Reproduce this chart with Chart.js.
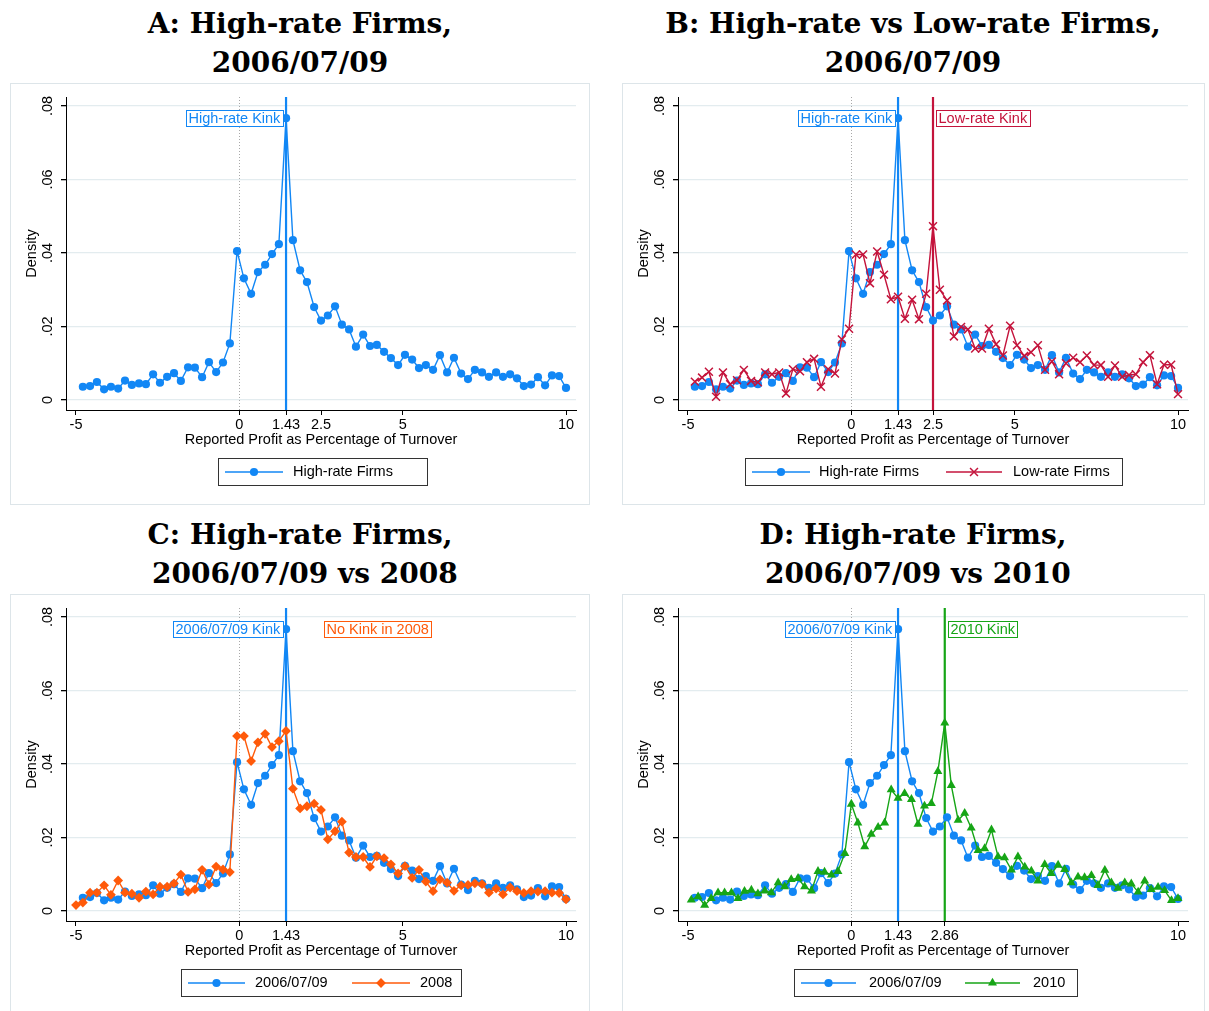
<!DOCTYPE html>
<html><head><meta charset="utf-8">
<script src="https://cdn.jsdelivr.net/npm/chart.js@4.4.1/dist/chart.umd.min.js"></script>
<style>
body{margin:0;background:#fff;width:1209px;height:1011px;overflow:hidden;position:relative}
.title{position:absolute;width:600px;text-align:center;font-family:"DejaVu Serif",serif;font-weight:bold;font-size:28px;line-height:39px;color:#000;white-space:pre}
.frame{position:absolute;border:1px solid #dde5e9;box-sizing:border-box;height:422px}
canvas{position:absolute}
</style></head><body>
<div class="title" style="left:0;top:4px">A: High-rate Firms,<br>2006/07/09</div>
<div class="title" style="left:613px;top:4px">B: High-rate vs Low-rate Firms,<br>2006/07/09</div>
<div class="title" style="left:0;top:515px">C: High-rate Firms,<br> 2006/07/09 vs 2008</div>
<div class="title" style="left:613px;top:515px">D: High-rate Firms,<br> 2006/07/09 vs 2010</div>
<div class="frame" style="left:10px;top:83px;width:580px"></div>
<div class="frame" style="left:622px;top:83px;width:583px"></div>
<div class="frame" style="left:10px;top:594px;width:580px"></div>
<div class="frame" style="left:622px;top:594px;width:583px"></div>
<script>
// ---------------- data ----------------
const xGrid = [-4.79,-4.57,-4.36,-4.14,-3.93,-3.71,-3.50,-3.29,-3.07,-2.86,-2.64,-2.43,-2.21,-2.00,-1.79,-1.57,-1.36,-1.14,-0.93,-0.71,-0.50,-0.29,-0.07,0.14,0.36,0.57,0.79,1.00,1.21,1.43,1.64,1.86,2.07,2.29,2.50,2.71,2.93,3.14,3.36,3.57,3.79,4.00,4.21,4.43,4.64,4.86,5.07,5.29,5.50,5.71,5.93,6.14,6.36,6.57,6.79,7.00,7.21,7.43,7.64,7.86,8.07,8.29,8.50,8.71,8.93,9.14,9.36,9.57,9.79,10.00];
const xGrid2008 = [-5.00,-4.79,-4.57,-4.36,-4.14,-3.93,-3.71,-3.50,-3.29,-3.07,-2.86,-2.64,-2.43,-2.21,-2.00,-1.79,-1.57,-1.36,-1.14,-0.93,-0.71,-0.50,-0.29,-0.07,0.14,0.36,0.57,0.79,1.00,1.21,1.43,1.64,1.86,2.07,2.29,2.50,2.71,2.93,3.14,3.36,3.57,3.79,4.00,4.21,4.43,4.64,4.86,5.07,5.29,5.50,5.71,5.93,6.14,6.36,6.57,6.79,7.00,7.21,7.43,7.64,7.86,8.07,8.29,8.50,8.71,8.93,9.14,9.36,9.57,9.79,10.00];
const xGrid2010 = [-4.90,-4.69,-4.49,-4.29,-4.08,-3.88,-3.67,-3.47,-3.27,-3.06,-2.86,-2.65,-2.45,-2.24,-2.04,-1.84,-1.63,-1.43,-1.22,-1.02,-0.82,-0.61,-0.41,-0.20,0.00,0.20,0.41,0.61,0.82,1.02,1.22,1.43,1.63,1.84,2.04,2.24,2.45,2.65,2.86,3.06,3.27,3.47,3.67,3.88,4.08,4.29,4.49,4.69,4.90,5.10,5.31,5.51,5.71,5.92,6.12,6.33,6.53,6.73,6.94,7.14,7.35,7.55,7.76,7.96,8.16,8.37,8.57,8.78,8.98,9.18,9.39,9.59,9.80,10.00];

const highRate = [0.0036,0.0038,0.0049,0.0029,0.0036,0.0031,0.0053,0.0041,0.0045,0.0043,
  0.0070,0.0047,0.0063,0.0073,0.0052,0.0089,0.0088,0.0062,0.0103,0.0076,
  0.0102,0.0154,0.0405,0.0331,0.0289,0.0348,0.0368,0.0397,0.0424,0.0767,
  0.0435,0.0353,0.0321,0.0253,0.0216,0.0230,0.0255,0.0205,0.0192,0.0145,
  0.0178,0.0147,0.0150,0.0131,0.0114,0.0095,0.0123,0.0110,0.0087,0.0095,
  0.0082,0.0122,0.0075,0.0115,0.0072,0.0057,0.0082,0.0075,0.0063,0.0075,
  0.0063,0.0070,0.0059,0.0038,0.0042,0.0062,0.0040,0.0067,0.0065,0.0033];
const lowRate = [0.0050,0.0061,0.0077,0.0009,0.0075,0.0043,0.0054,0.0082,0.0052,0.0048,
  0.0075,0.0070,0.0075,0.0018,0.0084,0.0078,0.0103,0.0112,0.0036,0.0084,
  0.0072,0.0165,0.0194,0.0396,0.0396,0.0318,0.0404,0.0341,0.0274,0.0281,
  0.0221,0.0273,0.0220,0.0289,0.0473,0.0300,0.0271,0.0173,0.0199,0.0192,
  0.0140,0.0140,0.0194,0.0152,0.0121,0.0202,0.0149,0.0120,0.0130,0.0149,
  0.0082,0.0105,0.0070,0.0100,0.0115,0.0103,0.0121,0.0095,0.0095,0.0063,
  0.0094,0.0063,0.0068,0.0070,0.0103,0.0122,0.0043,0.0096,0.0096,0.0016];
const year2008 = [0.0016,0.0023,0.0050,0.0050,0.0070,0.0044,0.0083,0.0050,0.0047,0.0036,
  0.0053,0.0045,0.0066,0.0066,0.0075,0.0099,0.0052,0.0059,0.0112,0.0072,
  0.0121,0.0113,0.0106,0.0476,0.0476,0.0408,0.0459,0.0482,0.0446,0.0462,
  0.0490,0.0333,0.0279,0.0285,0.0292,0.0275,0.0195,0.0217,0.0243,0.0159,
  0.0147,0.0147,0.0120,0.0149,0.0144,0.0127,0.0102,0.0122,0.0090,0.0112,
  0.0080,0.0054,0.0086,0.0077,0.0055,0.0070,0.0071,0.0075,0.0073,0.0050,
  0.0061,0.0045,0.0064,0.0054,0.0049,0.0054,0.0053,0.0054,0.0050,0.0049,0.0032];
const year2010 = [0.0030,0.0039,0.0016,0.0034,0.0050,0.0050,0.0050,0.0034,0.0054,0.0057,
  0.0047,0.0055,0.0050,0.0077,0.0066,0.0086,0.0089,0.0066,0.0055,0.0108,
  0.0106,0.0098,0.0108,0.0157,0.0291,0.0240,0.0175,0.0209,0.0228,0.0240,
  0.0330,0.0307,0.0320,0.0304,0.0236,0.0286,0.0293,0.0380,0.0512,0.0342,
  0.0247,0.0266,0.0226,0.0165,0.0170,0.0221,0.0148,0.0145,0.0112,0.0148,
  0.0120,0.0109,0.0082,0.0127,0.0102,0.0125,0.0113,0.0077,0.0093,0.0091,
  0.0097,0.0070,0.0111,0.0077,0.0062,0.0077,0.0074,0.0052,0.0082,0.0059,
  0.0065,0.0056,0.0029,0.0034];

const xTicksAB = [-5, 0, 1.43, 2.5, 5, 10];
const xLabelsAB = ['-5', '0', '1.43', '2.5', '5', '10'];
const xTicksC = [-5, 0, 1.43, 5, 10];
const xLabelsC = ['-5', '0', '1.43', '5', '10'];
const xTicksD = [-5, 0, 1.43, 2.86, 10];
const xLabelsD = ['-5', '0', '1.43', '2.86', '10'];
const yTicks = [0, 0.02, 0.04, 0.06, 0.08];
const yTickLabels = ['0', '.02', '.04', '.06', '.08'];
const kinkHigh = 1.43, kinkLow = 2.5, kink2010 = 2.86;
const xTitle = 'Reported Profit as Percentage of Turnover';
const yTitle = 'Density';

// ---------------- style ----------------
const BLUE = '#1287f5', RED = '#c4143c', ORANGE = '#ff5a0a', GREEN = '#16a516';
const FONT = '14.5px "Liberation Sans", Arial, Helvetica, sans-serif';
Chart.defaults.font.family = '"Liberation Sans", Arial, Helvetica, sans-serif';
Chart.defaults.font.size = 14.5;
Chart.defaults.color = '#000';

function pts(xs, ys) { return xs.map((x, i) => ({x: x, y: ys[i]})); }
function ds(label, xs, ys, color, style, r, order) {
  return {label, data: pts(xs, ys), borderColor: color, backgroundColor: color,
    pointBackgroundColor: color, pointBorderColor: color, pointStyle: style,
    pointRadius: r, pointBorderWidth: style === 'crossRot' ? 1.5 : 0,
    borderWidth: 1.4, tension: 0, order: order, fill: false};
}

function marker(ctx, d, x, y) {
  ctx.save();
  ctx.fillStyle = d.pointBackgroundColor; ctx.strokeStyle = d.pointBorderColor;
  ctx.lineWidth = d.pointBorderWidth || 0;
  Chart.helpers.drawPoint(ctx, {pointStyle: d.pointStyle, rotation: 0, radius: d.pointRadius,
    borderWidth: d.pointBorderWidth || 0}, x, y);
  ctx.restore();
}

const deco = {
  id: 'deco',
  beforeDatasetsDraw(chart, args, o) {
    const {ctx, chartArea: a} = chart, x = chart.scales.x;
    ctx.save();
    const x0 = Math.round(x.getPixelForValue(0)) + 0.5;
    ctx.strokeStyle = '#a8a8a8'; ctx.lineWidth = 1; ctx.setLineDash([1, 2]);
    ctx.beginPath(); ctx.moveTo(x0, a.top); ctx.lineTo(x0, a.bottom); ctx.stroke();
    ctx.setLineDash([]);
    o.lines.forEach(l => {
      const px = x.getPixelForValue(l.x);
      ctx.strokeStyle = l.color; ctx.lineWidth = 2.2;
      ctx.beginPath(); ctx.moveTo(px, a.top); ctx.lineTo(px, a.bottom); ctx.stroke();
    });
    ctx.restore();
  },
  afterDraw(chart, args, o) {
    const {ctx} = chart, x = chart.scales.x, y = chart.scales.y;
    ctx.save();
    ctx.font = FONT;
    // rotated y tick labels
    ctx.fillStyle = '#000'; ctx.textAlign = 'center'; ctx.textBaseline = 'middle';
    y.ticks.forEach((t, i) => {
      const py = y.getPixelForValue(t.value);
      ctx.save(); ctx.translate(38, py); ctx.rotate(-Math.PI / 2);
      ctx.fillText(yTickLabels[yTicks.indexOf(t.value)], 0, 0); ctx.restore();
    });
    // kink labels
    o.labels.forEach(l => {
      const tw = ctx.measureText(l.text).width;
      const px = x.getPixelForValue(l.x), cy = Math.round(y.getPixelForValue(0.0767));
      const bw = Math.round(tw + 5), bh = 16;
      const bx = Math.round(l.side === 'left' ? px - 3 - bw : px + 3);
      ctx.fillStyle = '#fff'; ctx.fillRect(bx, cy - bh / 2, bw, bh);
      ctx.strokeStyle = l.color; ctx.lineWidth = 1;
      ctx.strokeRect(bx + 0.5, cy - bh / 2 + 0.5, bw, bh);
      ctx.fillStyle = l.color; ctx.textAlign = 'left'; ctx.textBaseline = 'middle';
      ctx.fillText(l.text, bx + 2.5, cy + 1);
    });
    // legend
    const L = o.legend;
    ctx.strokeStyle = '#333'; ctx.lineWidth = 1;
    ctx.strokeRect(L.box[0] + 0.5, L.box[1] + 0.5, L.box[2] - L.box[0], L.box[3] - L.box[1]);
    const cy = (L.box[1] + L.box[3]) / 2 + 0.5;
    L.items.forEach(it => {
      const d = chart.data.datasets[it.ds];
      ctx.strokeStyle = d.borderColor; ctx.lineWidth = 1.4;
      ctx.beginPath(); ctx.moveTo(it.line[0], cy); ctx.lineTo(it.line[1], cy); ctx.stroke();
      marker(ctx, d, (it.line[0] + it.line[1]) / 2, cy);
      ctx.fillStyle = '#000'; ctx.textAlign = 'left'; ctx.textBaseline = 'middle';
      ctx.fillText(d.label, it.text, cy);
    });
    ctx.restore();
  }
};

function makePanel(p) {
  const cv = document.createElement('canvas');
  cv.width = p.w; cv.height = 422;
  cv.style.left = p.left + 'px'; cv.style.top = p.top + 'px';
  document.body.appendChild(cv);
  new Chart(cv.getContext('2d'), {
    type: 'line',
    data: {datasets: p.datasets},
    options: {
      responsive: false, animation: false, events: [],
      layout: {padding: {left: 0, top: 14, right: p.w - 566, bottom: 0}},
      plugins: {legend: {display: false}, tooltip: {enabled: false}, deco: p.deco},
      scales: {
        x: {type: 'linear', min: -5.306, max: 10.306,
          afterBuildTicks: s => { s.ticks = p.xTicks.map(v => ({value: v})); },
          afterFit: s => { s.height = 95; },
          grid: {drawOnChartArea: false, tickLength: 5, tickColor: '#000', lineWidth: 1},
          border: {color: '#000', width: 1},
          ticks: {autoSkip: false, maxRotation: 0, minRotation: 0, padding: 1, color: '#000',
            callback: v => p.xLabels[p.xTicks.indexOf(v)]},
          title: {display: true, text: xTitle, color: '#000', padding: {top: 0, bottom: 56.3}}
        },
        y: {type: 'linear', min: -0.00272, max: 0.08245,
          afterBuildTicks: s => { s.ticks = yTicks.map(v => ({value: v})); },
          afterFit: s => { s.width = 56; },
          grid: {color: '#e3ecef', lineWidth: 1.3, tickLength: 5, tickColor: '#000'},
          border: {color: '#000', width: 1},
          ticks: {display: false},
          title: {display: true, text: yTitle, color: '#000', padding: {top: 13.3, bottom: 0}}
        }
      }
    },
    plugins: [deco]
  });
}

const blueA = () => ds('High-rate Firms', xGrid, highRate, BLUE, 'circle', 4.1, 2);
const blue2 = () => ds('2006/07/09', xGrid, highRate, BLUE, 'circle', 4.1, 2);

makePanel({left: 10, top: 83, w: 580, xTicks: xTicksAB, xLabels: xLabelsAB,
  datasets: [blueA()],
  deco: {lines: [{x: kinkHigh, color: BLUE}],
    labels: [{text: 'High-rate Kink', x: kinkHigh, side: 'left', color: BLUE}],
    legend: {box: [208, 375, 417, 402], items: [{ds: 0, line: [215, 273], text: 283}]}}});

makePanel({left: 622, top: 83, w: 583, xTicks: xTicksAB, xLabels: xLabelsAB,
  datasets: [blueA(), ds('Low-rate Firms', xGrid, lowRate, RED, 'crossRot', 5.6, 1)],
  deco: {lines: [{x: kinkHigh, color: BLUE}, {x: kinkLow, color: RED}],
    labels: [{text: 'High-rate Kink', x: kinkHigh, side: 'left', color: BLUE},
             {text: 'Low-rate Kink', x: kinkLow, side: 'right', color: RED}],
    legend: {box: [123, 375, 500, 402], items: [{ds: 0, line: [130, 188], text: 197}, {ds: 1, line: [324, 380], text: 391}]}}});

makePanel({left: 10, top: 594, w: 580, xTicks: xTicksC, xLabels: xLabelsC,
  datasets: [blue2(), ds('2008', xGrid2008, year2008, ORANGE, 'rectRot', 4.9, 1)],
  deco: {lines: [{x: kinkHigh, color: BLUE}],
    labels: [{text: '2006/07/09 Kink', x: kinkHigh, side: 'left', color: BLUE},
             {text: 'No Kink in 2008', x: kinkLow, side: 'right', color: ORANGE}],
    legend: {box: [171, 375, 451, 402], items: [{ds: 0, line: [178, 235], text: 245}, {ds: 1, line: [342, 400], text: 410}]}}});

makePanel({left: 622, top: 594, w: 583, xTicks: xTicksD, xLabels: xLabelsD,
  datasets: [blue2(), ds('2010', xGrid2010, year2010, GREEN, 'triangle', 5.2, 1)],
  deco: {lines: [{x: kinkHigh, color: BLUE}, {x: kink2010, color: GREEN}],
    labels: [{text: '2006/07/09 Kink', x: kinkHigh, side: 'left', color: BLUE},
             {text: '2010 Kink', x: kink2010, side: 'right', color: GREEN}],
    legend: {box: [172, 375, 455, 402], items: [{ds: 0, line: [179, 234], text: 247}, {ds: 1, line: [343, 398], text: 411}]}}});
</script>
</body></html>
